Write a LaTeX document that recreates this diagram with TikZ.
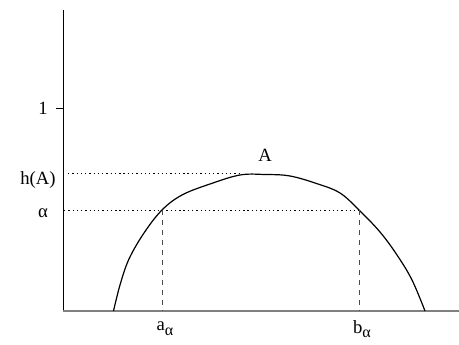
\documentclass[tikz,border=0pt]{standalone}
\usepackage{fontspec}
\setmainfont{Liberation Serif}
\usetikzlibrary{positioning}

\newcommand{\lowsub}[1]{\raisebox{-0.55ex}{\fontsize{12}{13}\selectfont #1}}

\tikzset{
    lbl/.style={draw=none, rectangle, inner sep=0pt, font=\fontsize{14}{16}\selectfont},
    guide/.style={dash pattern=on 1pt off 2.2pt, line width=0.5pt},
    drop/.style={dash pattern=on 4pt off 3.5pt, line width=0.5pt, black!70}
}

\begin{document}
\begin{tikzpicture}[x=0.75pt, y=-0.75pt]
    \useasboundingbox (0,0) rectangle (459,345);

    % Axes
    \coordinate (O) at (63,311);
    \coordinate (ytop) at (63,10);
    \coordinate (xend) at (459,311);
    \draw[line width=0.7pt] (ytop) -- (O);
    \draw[line width=1.5pt, gray] (O) -- (xend);

    % Tick for 1
    \coordinate (one) at (63,108);
    \draw[line width=0.6pt] (one) -- ++(-7,0);
    \node[lbl] (lone) at (43,108) {1};

    % Levels h(A) and alpha
    \node[lbl] (lh) at (38,180) {h(A)};
    \node[lbl] (lal) at (43,213) {α};
    \coordinate (hs) at (68,173);
    \coordinate (he) at (240,173);
    \coordinate (as) at (64,210);
    \coordinate (ae) at (359,210);
    \draw[guide] (hs) -- (he);
    \draw[guide] (as) -- (ae);

    % Fuzzy set A
    \draw[line width=0.9pt] plot[smooth, tension=0.6] coordinates {
        (113.5,311) (120,285) (129,259) (144,233) (162,210) (182,195)
        (210,184) (240,175) (265,174.5) (290,176) (318,184) (340,193)
        (359,210) (380,232) (397,255) (412,280) (425,311)};
    \node[lbl] (lA) at (265,155) {A};

    % Alpha cut
    \coordinate (aa) at (162,210);
    \coordinate (ba) at (359,210);
    \draw[drop] (aa) -- (aa |- O);
    \draw[drop] (ba) -- (ba |- O);
    \node[lbl] (la) at (165,329) {a\lowsub{α}};
    \node[lbl] (lb) at (362,329) {b\lowsub{α}};
\end{tikzpicture}
\end{document}
